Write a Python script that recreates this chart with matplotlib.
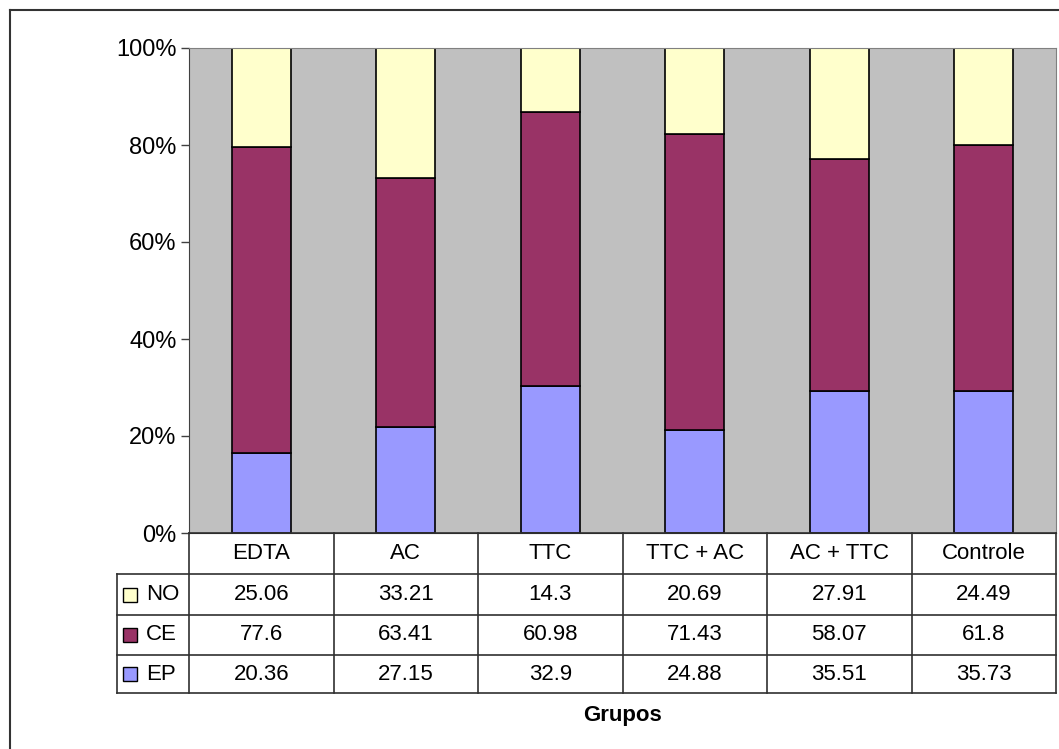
import matplotlib.pyplot as plt
import numpy as np
from matplotlib.lines import Line2D
from matplotlib.patches import Rectangle

plt.rcParams['font.family'] = ['Liberation Sans', 'DejaVu Sans']

# --- data ---
grupos = ["EDTA", "AC", "TTC", "TTC + AC", "AC + TTC", "Controle"]
ep = [20.36, 27.15, 32.9, 24.88, 35.51, 35.73]
ce = [77.6, 63.41, 60.98, 71.43, 58.07, 61.8]
no = [25.06, 33.21, 14.3, 20.69, 27.91, 24.49]
series_names = ["NO", "CE", "EP"]
colors = {"EP": "#9999FF", "CE": "#993366", "NO": "#FFFFCC"}
y_ticks = [0, 0.2, 0.4, 0.6, 0.8, 1.0]
y_labels = ["0%", "20%", "40%", "60%", "80%", "100%"]

W, H = 1059, 749
fig = plt.figure(figsize=(W / 100, H / 100), dpi=100)

def fx(px):
    return px / W

def fy(py):
    return 1 - py / H

# plot area in pixels
L, R, T, B = 189, 1056, 48, 533

ax = fig.add_axes([fx(L), fy(B), fx(R - L), fy(T) - fy(B)])
ax.set_facecolor("#C0C0C0")

ep_a, ce_a, no_a = np.array(ep), np.array(ce), np.array(no)
tot = ep_a + ce_a + no_a
x = np.arange(len(grupos))
bw = 0.41
ax.bar(x, ep_a / tot, bw, color=colors["EP"], edgecolor="black", linewidth=1.2)
ax.bar(x, ce_a / tot, bw, bottom=ep_a / tot, color=colors["CE"], edgecolor="black", linewidth=1.2)
ax.bar(x, no_a / tot, bw, bottom=(ep_a + ce_a) / tot, color=colors["NO"], edgecolor="black", linewidth=1.2)

ax.set_xlim(-0.5, len(grupos) - 0.5)
ax.set_ylim(0, 1)
ax.set_xticks([])
ax.set_yticks(y_ticks)
ax.set_yticklabels(y_labels, fontsize=17)
ax.tick_params(axis="y", direction="out", length=6, width=1, color="#404040", pad=3)
for s in ["top", "right"]:
    ax.spines[s].set_color("#808080")
ax.spines["left"].set_color("#404040")
ax.spines["bottom"].set_color("#202020")

# --- data table below the axis ---
col_w = (R - L) / len(grupos)
row_y = [533, 574, 615, 655, 693]
leg_l = 117
lc = "#303030"
fs = 16

def hline(y, x0, x1, lw=1.2):
    fig.add_artist(Line2D([fx(x0), fx(x1)], [fy(y), fy(y)], color=lc, lw=lw))

def vline(xp, y0, y1, lw=1.2):
    fig.add_artist(Line2D([fx(xp), fx(xp)], [fy(y0), fy(y1)], color=lc, lw=lw))

hline(row_y[0], L, R)
for y in row_y[1:]:
    hline(y, leg_l, R)
for i in range(len(grupos) + 1):
    vline(L + i * col_w, row_y[0], row_y[-1])
vline(leg_l, row_y[1], row_y[-1])

for i, g in enumerate(grupos):
    fig.text(fx(L + (i + 0.5) * col_w), fy((row_y[0] + row_y[1]) / 2), g,
             ha="center", va="center", fontsize=fs)

table_rows = {"NO": no, "CE": ce, "EP": ep}
for r, name in enumerate(series_names):
    yc = (row_y[r + 1] + row_y[r + 2]) / 2
    sq = 14
    fig.add_artist(Rectangle((fx(123), fy(yc + sq / 2)), fx(sq), sq / H,
                             facecolor=colors[name], edgecolor="black", lw=1))
    fig.text(fx(146), fy(yc), name, ha="left", va="center", fontsize=fs)
    for i, v in enumerate(table_rows[name]):
        fig.text(fx(L + (i + 0.5) * col_w), fy(yc), f"{v:g}",
                 ha="center", va="center", fontsize=fs)

fig.text(fx((L + R) / 2), fy(716), "Grupos", ha="center", va="center",
         fontsize=fs, fontweight="bold")

# outer chart frame (top and left edges)
fig.add_artist(Line2D([fx(10), fx(W)], [fy(10), fy(10)], color="#333333", lw=1.5))
fig.add_artist(Line2D([fx(10), fx(10)], [fy(10), fy(H)], color="#333333", lw=1.5))

fig.savefig("out.png", dpi=100)
